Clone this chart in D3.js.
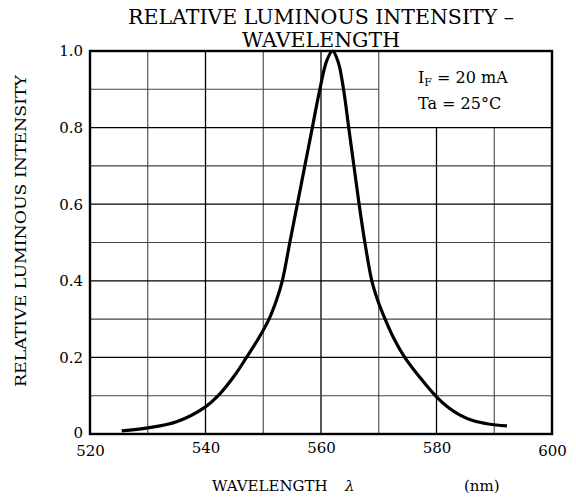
<!DOCTYPE html>
<head>
  <meta charset="utf-8">
  <script src="https://d3js.org/d3.v7.min.js"></script>
  <style>
    body { margin: 0; background: #fff; }
    text { font-family: 'DejaVu Serif', 'Liberation Serif', serif; fill: #000; }
    .tick text { font-size: 15px; }
    .axis path.domain { display: none; }
  </style>
</head>
<body>
  <script>
    // readings
    var wavelength = [525.5, 530, 535, 540, 542.2, 545, 547.1, 549.2, 551, 552.3, 553.3, 554.6, 555.9,
                      557.2, 558.5, 559.8, 561, 562, 563, 563.9, 564.8, 565.7, 566.6, 567.6, 568.8,
                      569.8, 571.1, 572.6, 574.5, 577, 580, 582, 584, 586.3, 589, 592.2];
    var intensity  = [0.008, 0.016, 0.032, 0.071, 0.1, 0.152, 0.2, 0.25, 0.3, 0.35, 0.4, 0.5, 0.6,
                      0.7, 0.8, 0.9, 0.975, 1.0, 0.97, 0.9, 0.8, 0.7, 0.6, 0.5, 0.4,
                      0.35, 0.3, 0.25, 0.2, 0.15, 0.097, 0.07, 0.05, 0.035, 0.026, 0.021];

    var xTicks = [520, 540, 560, 580, 600];
    var yTicks = [0, 0.2, 0.4, 0.6, 0.8, 1.0];
    var xGrid = [530, 540, 550, 560, 570, 580, 590];
    var yGrid = [0.1, 0.2, 0.3, 0.4, 0.5, 0.6, 0.7, 0.8, 0.9];

    var titleLines = ["RELATIVE LUMINOUS INTENSITY \u2013", "WAVELENGTH"];
    var yTitle = "RELATIVE LUMINOUS INTENSITY";
    var conditions = ["Ta = 25\u00B0C"];

    var width = 576, height = 499;
    var m = { left: 90, right: 552, top: 51, bottom: 434 };

    var svg = d3.select("body").append("svg")
        .attr("width", width)
        .attr("height", height);

    var x = d3.scaleLinear().domain([520, 600]).range([m.left, m.right]);
    var y = d3.scaleLinear().domain([0, 1]).range([m.bottom, m.top]);

    // grid (the top right cell holds the test conditions)
    var grid = svg.append("g");
    grid.selectAll(".vg")
        .data(xGrid)
      .enter().append("line")
        .attr("x1", function(d) { return x(d); })
        .attr("x2", function(d) { return x(d); })
        .attr("y1", y(0))
        .attr("y2", function(d) { return d > 570 ? y(0.8) : y(1); })
        .attr("stroke", function(d) { return d % 20 == 0 ? "#000" : "#444"; })
        .attr("stroke-width", function(d) { return d % 20 == 0 ? 1.3 : 1.1; });

    grid.selectAll(".hg")
        .data(yGrid)
      .enter().append("line")
        .attr("y1", function(d) { return y(d); })
        .attr("y2", function(d) { return y(d); })
        .attr("x1", x(520))
        .attr("x2", function(d) { return d > 0.8 ? x(570) : x(600); })
        .attr("stroke", function(d) { return Math.round(d * 10) % 2 == 0 ? "#000" : "#444"; })
        .attr("stroke-width", function(d) { return Math.round(d * 10) % 2 == 0 ? 1.3 : 1.1; });

    // curve
    var pts = wavelength.map(function(w, i) { return [w, intensity[i]]; });
    var line = d3.line()
        .x(function(d) { return x(d[0]); })
        .y(function(d) { return y(d[1]); })
        .curve(d3.curveCatmullRom.alpha(0.5));

    svg.append("path")
        .datum(pts)
        .attr("d", line)
        .attr("fill", "none")
        .attr("stroke", "#000")
        .attr("stroke-width", 3.2)
        .attr("stroke-linejoin", "round");

    // frame
    svg.append("rect")
        .attr("x", m.left)
        .attr("y", m.top)
        .attr("width", m.right - m.left)
        .attr("height", m.bottom - m.top)
        .attr("fill", "none")
        .attr("stroke", "#000")
        .attr("stroke-width", 2.4);

    // axes
    svg.append("g")
        .attr("class", "axis")
        .attr("transform", "translate(" + (m.left - 1) + ",0)")
        .call(d3.axisLeft(y).tickValues(yTicks).tickSize(0).tickPadding(6)
          .tickFormat(function(d) { return d == 0 ? "0" : d3.format(".1f")(d); }))
        .selectAll("text")
          .attr("dy", function(d) { return d == 0 ? "0.2em" : "0.32em"; });

    svg.append("g")
        .attr("class", "axis")
        .attr("transform", "translate(0," + m.bottom + ")")
        .call(d3.axisBottom(x).tickValues(xTicks).tickSize(0).tickPadding(8))
        .selectAll("text")
          .attr("dy", function(d) { return d == 520 || d == 600 ? "0.9em" : "0.71em"; });

    // title
    svg.selectAll(".title")
        .data(titleLines)
      .enter().append("text")
        .attr("x", (m.left + m.right) / 2)
        .attr("y", function(d, i) { return 24 + i * 23; })
        .attr("text-anchor", "middle")
        .style("font-size", "20.5px")
        .text(function(d) { return d; });

    // x title
    var xt = svg.append("text")
        .attr("y", 491)
        .style("font-size", "15px");
    xt.append("tspan").attr("x", 212).text("WAVELENGTH");
    xt.append("tspan").attr("x", 345).style("font-style", "italic").text("\u03BB");
    xt.append("tspan").attr("x", 464).text("(nm)");

    // y title
    svg.append("text")
        .attr("transform", "translate(26,231) rotate(-90)")
        .attr("text-anchor", "middle")
        .attr("textLength", 312)
        .attr("lengthAdjust", "spacingAndGlyphs")
        .style("font-size", "15px")
        .text(yTitle);

    // conditions box
    var c1 = svg.append("text")
        .attr("x", 418)
        .attr("y", 83)
        .style("font-size", "16px");
    c1.append("tspan").text("I");
    c1.append("tspan").attr("dy", 3).style("font-size", "11px").text("F");
    c1.append("tspan").attr("dy", -3).text(" = 20 mA");

    svg.selectAll(".cond")
        .data(conditions)
      .enter().append("text")
        .attr("x", 418)
        .attr("y", 109)
        .style("font-size", "16px")
        .text(function(d) { return d; });
  </script>
</body>
